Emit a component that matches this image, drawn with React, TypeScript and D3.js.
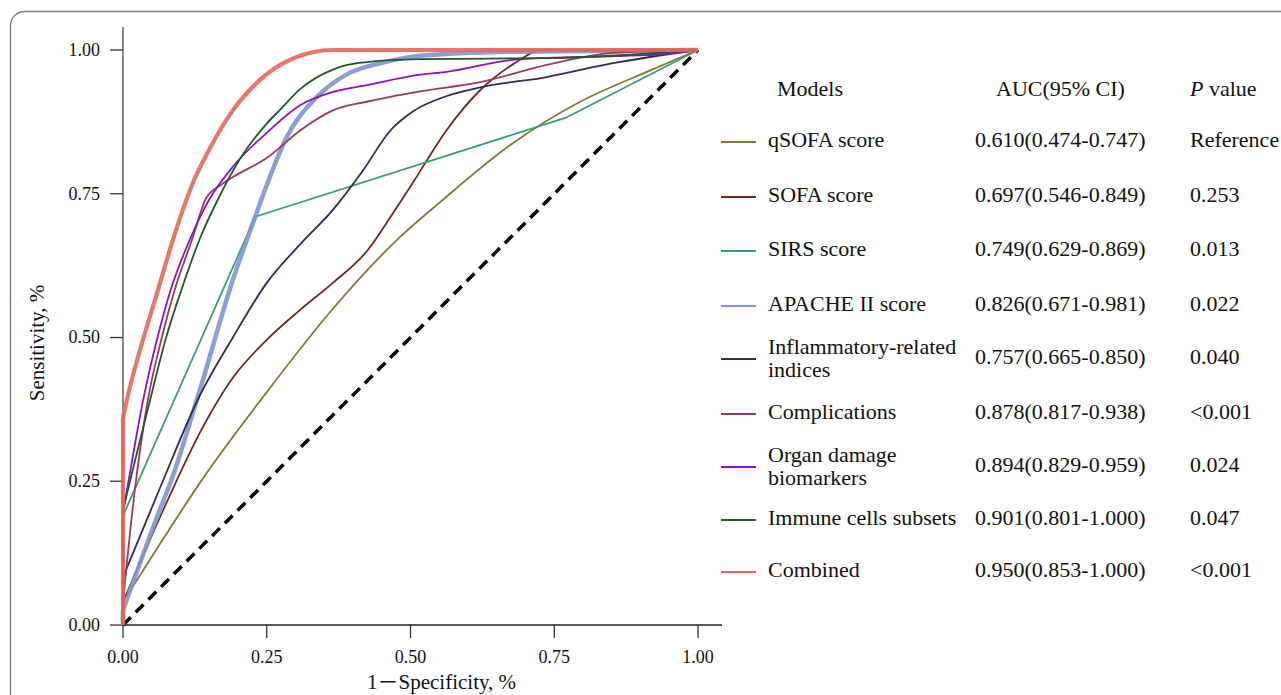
import React from 'react';
import * as d3 from 'd3';

type P = [number, number];

const xTicks = [0, 0.25, 0.5, 0.75, 1];
const yTicks = [0, 0.25, 0.5, 0.75, 1];

const qsofaPts: P[] = [[0, 0], [0, 0.04], [0.07, 0.15], [0.139, 0.255], [0.25, 0.405], [0.365, 0.55], [0.482, 0.675], [0.551, 0.735], [0.678, 0.838], [0.795, 0.91], [0.911, 0.962], [1, 1]];
const sofaPts: P[] = [[0, 0], [0, 0.04], [0.07, 0.2], [0.134, 0.335], [0.191, 0.43], [0.25, 0.496], [0.308, 0.548], [0.365, 0.595], [0.424, 0.65], [0.47, 0.717], [0.504, 0.769], [0.563, 0.861], [0.621, 0.93], [0.678, 0.975], [0.73, 1], [1, 1]];
const sirsPts: P[] = [[0, 0], [0, 0.19], [0.23, 0.71], [0.772, 0.883], [1, 1]];
const apachePts: P[] = [[0, 0], [0, 0.026], [0.06, 0.19], [0.087, 0.26], [0.134, 0.41], [0.191, 0.6], [0.23, 0.71], [0.25, 0.765], [0.285, 0.849], [0.337, 0.918], [0.39, 0.958], [0.452, 0.978], [0.517, 0.99], [0.68, 0.997], [1, 1]];
const inflamPts: P[] = [[0, 0], [0, 0.083], [0.065, 0.24], [0.134, 0.4], [0.191, 0.5], [0.25, 0.595], [0.308, 0.662], [0.365, 0.722], [0.417, 0.79], [0.465, 0.86], [0.504, 0.893], [0.563, 0.92], [0.621, 0.935], [0.737, 0.953], [0.852, 0.977], [1, 1]];
const complPts: P[] = [[0, 0], [0, 0.04], [0.02, 0.23], [0.043, 0.39], [0.065, 0.49], [0.09, 0.583], [0.12, 0.67], [0.145, 0.743], [0.17, 0.765], [0.191, 0.779], [0.25, 0.812], [0.308, 0.86], [0.365, 0.895], [0.424, 0.91], [0.517, 0.928], [0.621, 0.944], [0.737, 0.974], [0.852, 0.995], [1, 1]];
const organPts: P[] = [[0, 0], [0, 0.195], [0.02, 0.31], [0.035, 0.391], [0.06, 0.5], [0.083, 0.583], [0.117, 0.672], [0.15, 0.74], [0.191, 0.797], [0.25, 0.856], [0.308, 0.904], [0.365, 0.927], [0.424, 0.939], [0.517, 0.957], [0.563, 0.962], [0.678, 0.983], [0.795, 0.988], [0.91, 0.991], [1, 1]];
const immunePts: P[] = [[0, 0], [0, 0.2], [0.017, 0.27], [0.047, 0.391], [0.075, 0.5], [0.104, 0.59], [0.137, 0.68], [0.165, 0.74], [0.203, 0.81], [0.25, 0.872], [0.273, 0.896], [0.308, 0.932], [0.365, 0.966], [0.39, 0.974], [0.424, 0.979], [0.517, 0.984], [0.75, 0.986], [1, 1]];
const combinedPts: P[] = [[0, 0], [0, 0.36], [0.01, 0.405], [0.03, 0.48], [0.061, 0.583], [0.09, 0.68], [0.122, 0.77], [0.15, 0.827], [0.191, 0.895], [0.25, 0.958], [0.308, 0.99], [0.365, 1], [1, 1]];

const modelLabels = [['qSOFA score'], ['SOFA score'], ['SIRS score'], ['APACHE II score'], ['Inflammatory-related', 'indices'], ['Complications'], ['Organ damage', 'biomarkers'], ['Immune cells subsets'], ['Combined']];
const aucLabels = ['0.610(0.474-0.747)', '0.697(0.546-0.849)', '0.749(0.629-0.869)', '0.826(0.671-0.981)', '0.757(0.665-0.850)', '0.878(0.817-0.938)', '0.894(0.829-0.959)', '0.901(0.801-1.000)', '0.950(0.853-1.000)'];
const pLabels = ['Reference', '0.253', '0.013', '0.022', '0.040', '<0.001', '0.024', '0.047', '<0.001'];
const seriesPts = [qsofaPts, sofaPts, sirsPts, apachePts, inflamPts, complPts, organPts, immunePts, combinedPts];
const colors = ['#857a32', '#6e2a20', '#3a9e6e', '#7d93d3', '#2b2b5c', '#9a3a5a', '#8a12c8', '#1f5a2c', '#e8665a'];
const widths = [1.8, 1.8, 1.8, 4.5, 1.8, 1.8, 1.8, 1.8, 4.2];
const linearSeries = [false, false, true, false, false, false, false, false, false];
const rowCenters = [140, 195, 249, 304, 357, 412, 465, 518, 570];

const FONT = '"Liberation Serif", "Times New Roman", serif';
const LF = 22;

export default function App() {
  const x = d3.scaleLinear().domain([0, 1]).range([123, 698]);
  const y = d3.scaleLinear().domain([0, 1]).range([625, 50]);
  const lin = d3.line<P>().x(d => x(d[0])).y(d => y(d[1]));
  const mono = d3.line<P>().x(d => x(d[0])).y(d => y(d[1])).curve(d3.curveMonotoneX);

  const pathFor = (pts: P[], linear: boolean) => {
    let k = 0;
    while (k + 1 < pts.length && pts[k + 1][0] === pts[0][0]) k++;
    const head = lin(pts.slice(0, k + 1)) || '';
    const tail = (linear ? lin : mono)(pts.slice(k)) || '';
    return head + tail;
  };

  return (
    <svg width={1281} height={695} style={{ position: 'absolute', left: 0, top: 0, display: 'block', background: '#fff' }} fontFamily={FONT}>
      <rect x={10.5} y={11.5} width={1320} height={720} rx={14} fill="none" stroke="#777" strokeWidth={1.3} />
      {/* axes */}
      <line x1={x(0)} x2={x(0)} y1={27} y2={y(0)} stroke="#555" strokeWidth={1.4} />
      <line x1={x(0)} x2={722} y1={y(0)} y2={y(0)} stroke="#222" strokeWidth={1.4} />
      {yTicks.map(t => (
        <g key={'y' + t}>
          <line x1={x(0) - 13} x2={x(0)} y1={y(t)} y2={y(t)} stroke="#333" strokeWidth={1.3} />
          <text x={100} y={y(t)} dy="0.33em" textAnchor="end" fontSize={18} fill="#111">{t.toFixed(2)}</text>
        </g>
      ))}
      {xTicks.map(t => (
        <g key={'x' + t}>
          <line x1={x(t)} x2={x(t)} y1={y(0)} y2={y(0) + 13} stroke="#333" strokeWidth={1.3} />
          <text x={x(t)} y={663} textAnchor="middle" fontSize={18} fill="#111">{t.toFixed(2)}</text>
        </g>
      ))}
      <text x={367} y={689} fontSize={21} fill="#111">1<tspan fontFamily='"Noto Sans CJK SC", sans-serif'>－</tspan>Specificity, %</text>
      <text transform={`translate(44,343) rotate(-90)`} textAnchor="middle" fontSize={21} fill="#111">Sensitivity, %</text>

      {/* diagonal */}
      <line x1={x(0)} y1={y(0)} x2={x(1)} y2={y(1)} stroke="#000" strokeWidth={3.5} strokeDasharray="11 7" />

      {/* curves */}
      {seriesPts.map((pts, i) => (
        <path key={'c' + i} d={pathFor(pts, linearSeries[i])} fill="none" stroke={colors[i]} strokeWidth={widths[i]}
          strokeOpacity={widths[i] > 3 ? 0.9 : 1} strokeLinejoin="round" />
      ))}

      {/* legend */}
      <text x={777} y={89} dy="0.33em" fontSize={LF} fill="#111">Models</text>
      <text x={996} y={89} dy="0.33em" fontSize={LF} fill="#111">AUC(95% CI)</text>
      <text x={1190} y={89} dy="0.33em" fontSize={LF} fill="#111"><tspan fontStyle="italic">P</tspan> value</text>
      {modelLabels.map((lines, i) => {
        const cy = rowCenters[i];
        return (
          <g key={'l' + i}>
            <line x1={721} x2={756} y1={cy + 2} y2={cy + 2} stroke={colors[i]} strokeWidth={2} />
            {lines.map((s, j) => (
              <text key={j} x={768} y={lines.length > 1 ? cy + (j === 0 ? -10 : 13) : cy} dy="0.33em" fontSize={LF} fill="#111">{s}</text>
            ))}
            <text x={975} y={cy} dy="0.33em" fontSize={LF} fill="#111">{aucLabels[i]}</text>
            <text x={1190} y={cy} dy="0.33em" fontSize={LF} fill="#111">{pLabels[i]}</text>
          </g>
        );
      })}
    </svg>
  );
}
